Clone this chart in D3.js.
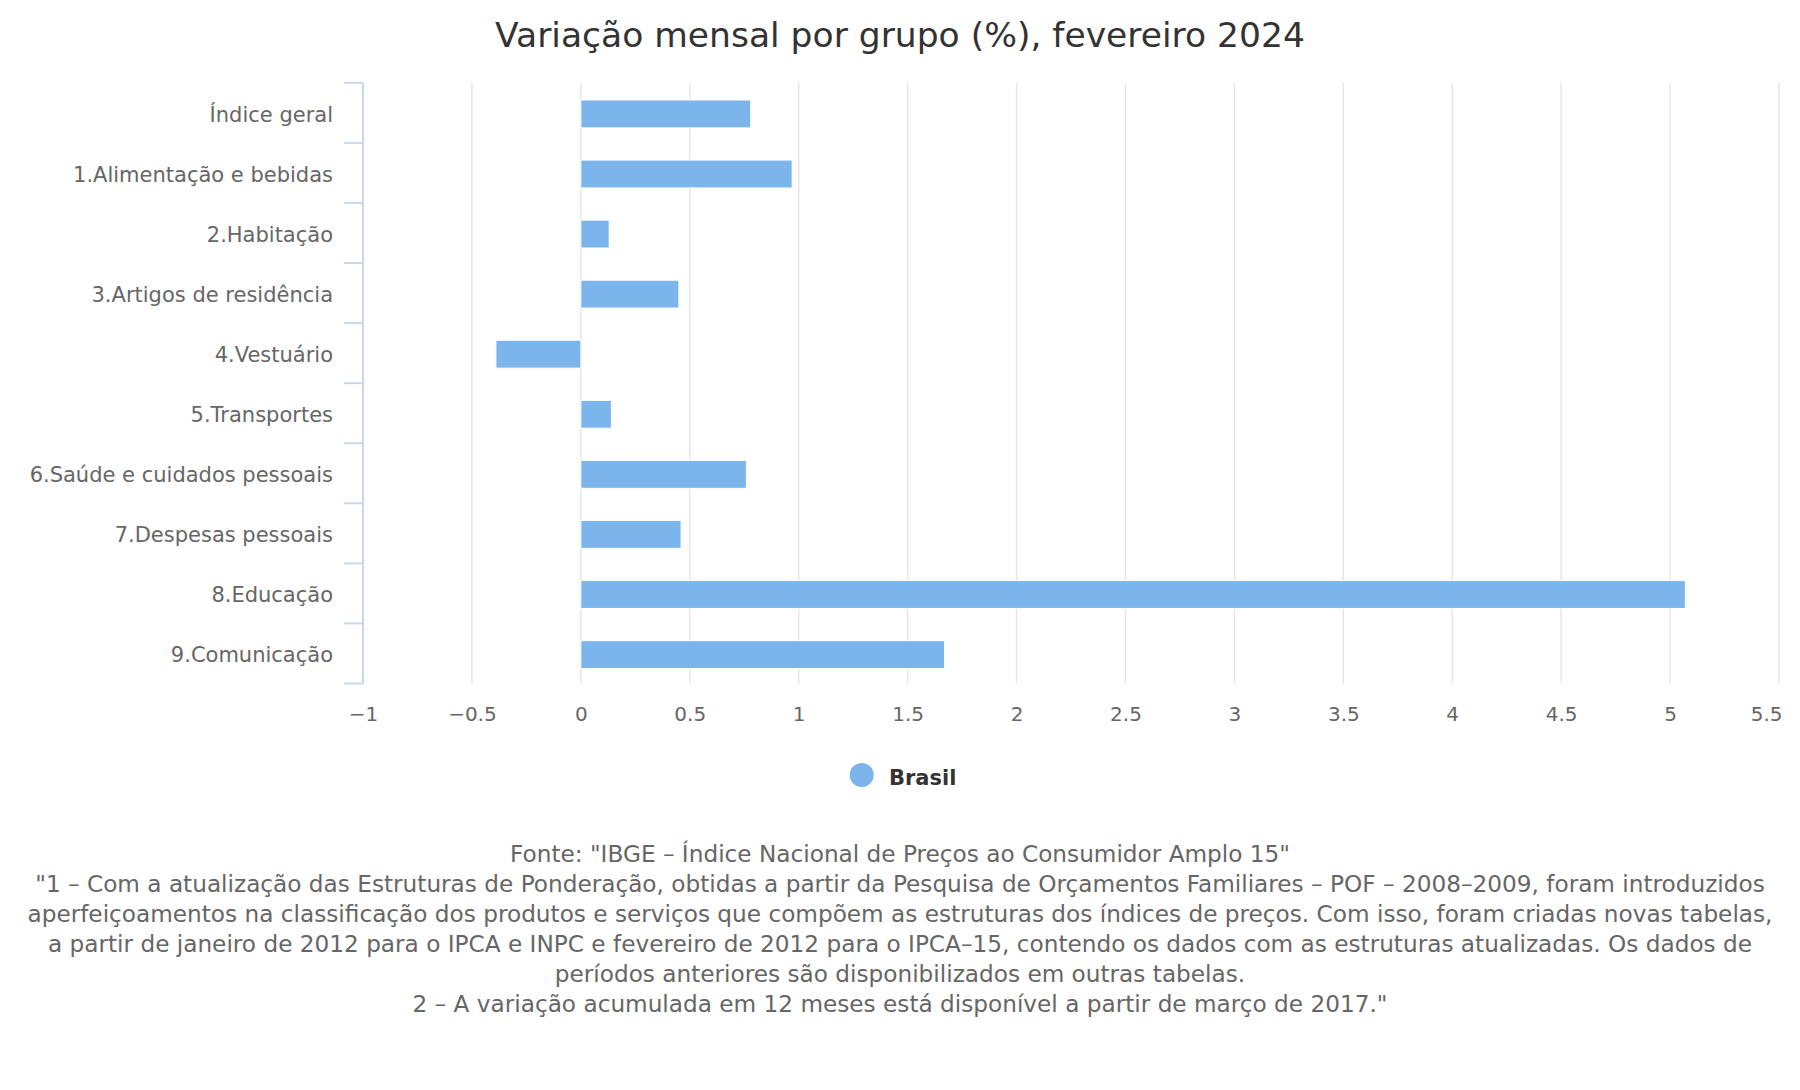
<!DOCTYPE html>
<html>
<head>
    <meta charset="UTF-8">
    <title>Variação mensal por grupo (%), fevereiro 2024</title>
    <style>
        body {
            margin: 0;
            padding: 0;
            background-color: #ffffff;
            font-family: "DejaVu Sans", sans-serif;
        }
        .grid line {
            stroke: #e6e6e6;
            stroke-width: 1.5px;
        }
        .bar {
            fill: #7cb5ec;
            stroke: #ffffff;
            stroke-width: 1px;
        }
    </style>
    <script src="https://d3js.org/d3.v7.min.js"></script>
</head>
<body>
    <div id="chart"></div>

    <script>
        // data
        var categories = [
            "Índice geral",
            "1.Alimentação e bebidas",
            "2.Habitação",
            "3.Artigos de residência",
            "4.Vestuário",
            "5.Transportes",
            "6.Saúde e cuidados pessoais",
            "7.Despesas pessoais",
            "8.Educação",
            "9.Comunicação"
        ];
        var brasil = [0.78, 0.97, 0.13, 0.45, -0.39, 0.14, 0.76, 0.46, 5.07, 1.67];
        var xTicks = [-1, -0.5, 0, 0.5, 1, 1.5, 2, 2.5, 3, 3.5, 4, 4.5, 5, 5.5];
        var seriesName = "Brasil";
        var title = "Variação mensal por grupo (%), fevereiro 2024";
        var footerLines = [
            "Fonte: \"IBGE – Índice Nacional de Preços ao Consumidor Amplo 15\"",
            "\"1 – Com a atualização das Estruturas de Ponderação, obtidas a partir da Pesquisa de Orçamentos Familiares – POF – 2008–2009, foram introduzidos",
            "aperfeiçoamentos na classificação dos produtos e serviços que compõem as estruturas dos índices de preços. Com isso, foram criadas novas tabelas,",
            "a partir de janeiro de 2012 para o IPCA e INPC e fevereiro de 2012 para o IPCA–15, contendo os dados com as estruturas atualizadas. Os dados de",
            "períodos anteriores são disponibilizados em outras tabelas.",
            "2 – A variação acumulada em 12 meses está disponível a partir de março de 2017.\""
        ];

        var W = 1800, H = 1090;
        var plot = {left: 363, right: 1779, top: 82.8, bottom: 683.5};

        var svg = d3.select("#chart").append("svg")
            .attr("width", W)
            .attr("height", H);

        var x = d3.scaleLinear()
            .domain([xTicks[0], xTicks[xTicks.length - 1]])
            .range([plot.left, plot.right]);

        var y = d3.scaleBand()
            .domain(categories)
            .range([plot.top, plot.bottom]);

        // title
        svg.append("text")
            .attr("x", W / 2)
            .attr("y", 47)
            .attr("text-anchor", "middle")
            .style("font-size", "34.5px")
            .style("fill", "#333333")
            .text(title);

        // vertical grid lines
        svg.append("g")
            .attr("class", "grid")
            .selectAll("line")
            .data(xTicks)
            .enter().append("line")
            .attr("x1", function(d) { return x(d); })
            .attr("x2", function(d) { return x(d); })
            .attr("y1", plot.top)
            .attr("y2", plot.bottom);

        // bars
        var barH = y.bandwidth() * 0.464;
        svg.selectAll(".bar")
            .data(brasil)
            .enter().append("rect")
            .attr("class", "bar")
            .attr("x", function(d) { return x(Math.min(0, d)); })
            .attr("y", function(d, i) { return y(categories[i]) + (y.bandwidth() - barH) / 2 + 1.1; })
            .attr("width", function(d) { return Math.abs(x(d) - x(0)); })
            .attr("height", barH);

        // bottom axis labels
        var xAxis = svg.append("g")
            .attr("transform", "translate(0," + plot.bottom + ")")
            .call(d3.axisBottom(x)
                .tickValues(xTicks)
                .tickFormat(d3.format("~g"))
                .tickSize(0)
                .tickPadding(23.5));
        xAxis.select(".domain").remove();
        xAxis.selectAll("text")
            .style("font-family", "DejaVu Sans, sans-serif")
            .style("font-size", "20px")
            .style("fill", "#666666");
        // last label is kept inside the chart area
        xAxis.selectAll(".tick").filter(function(d, i) { return i === xTicks.length - 1; })
            .select("text")
            .attr("text-anchor", "end")
            .attr("x", 1782 - plot.right);

        // left axis: line, boundary ticks and labels
        var yAxis = svg.append("g");
        yAxis.append("line")
            .attr("x1", plot.left)
            .attr("x2", plot.left)
            .attr("y1", plot.top)
            .attr("y2", plot.bottom)
            .style("stroke", "#ccd6eb")
            .style("stroke-width", 2);

        var bounds = categories.map(function(c) { return y(c); }).concat([plot.bottom]);
        yAxis.selectAll(".ytick")
            .data(bounds)
            .enter().append("line")
            .attr("class", "ytick")
            .attr("x1", plot.left - 19)
            .attr("x2", plot.left)
            .attr("y1", function(d) { return d; })
            .attr("y2", function(d) { return d; })
            .style("stroke", "#ccd6eb")
            .style("stroke-width", 2);

        yAxis.selectAll(".ylabel")
            .data(categories)
            .enter().append("text")
            .attr("class", "ylabel")
            .attr("x", 333)
            .attr("y", function(d) { return y(d) + y.bandwidth() / 2 + 9; })
            .attr("text-anchor", "end")
            .style("font-size", "21px")
            .style("fill", "#666666")
            .text(function(d) { return d; });

        // legend
        var legend = svg.append("g");
        legend.append("circle")
            .attr("cx", 861.7)
            .attr("cy", 775)
            .attr("r", 12)
            .style("fill", "#7cb5ec");
        legend.append("text")
            .attr("x", 889)
            .attr("y", 785)
            .style("font-size", "21px")
            .style("font-weight", "bold")
            .style("fill", "#333333")
            .text(seriesName);

        // footer notes
        svg.append("g")
            .selectAll("text")
            .data(footerLines)
            .enter().append("text")
            .attr("x", W / 2)
            .attr("y", function(d, i) { return 862 + i * 29.9; })
            .attr("text-anchor", "middle")
            .style("font-size", "23.2px")
            .style("fill", "#666666")
            .text(function(d) { return d; });
    </script>
</body>
</html>
